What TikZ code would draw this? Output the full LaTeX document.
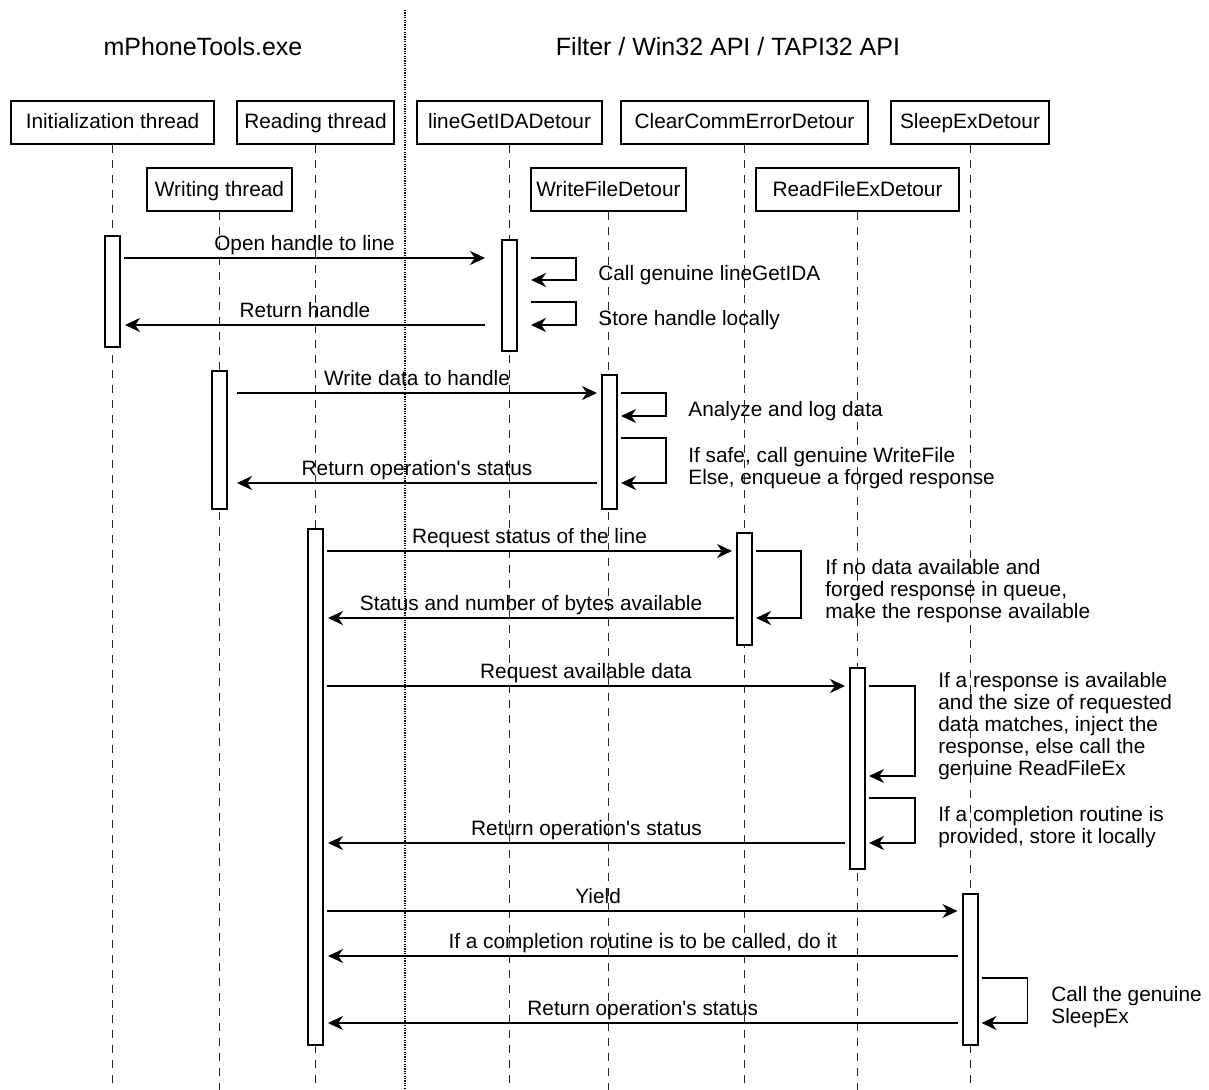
\documentclass[tikz,border=0pt]{standalone}
\usepackage{fontspec}
\setmainfont{Liberation Sans}[Ligatures=TeXOff]
\usetikzlibrary{arrows.meta}

\begin{document}
\begin{tikzpicture}[x=0.5pt, y=-0.5pt, font=\fontsize{10.4}{11}\selectfont, line join=miter,
		>={Stealth[length=7.5pt,width=7pt,inset=2.4pt]},
		obj/.style={draw, line width=1pt, minimum height=21.5pt, inner sep=1pt, text height=7.5pt, text depth=1pt},
		act/.style={draw, line width=1pt, fill=white, minimum width=7.5pt, inner sep=0pt},
		life/.style={black!85, line width=0.5pt, dash pattern=on 4pt off 3.5pt},
		msg/.style={->, line width=0.9pt},
		lbl/.style={above, inner sep=1pt, text height=7.5pt, text depth=2.2pt},
		note/.style={anchor=west, align=left, inner sep=0pt},
		title/.style={font=\fontsize{12.5}{14}\selectfont}
		]
		\useasboundingbox (0,0) rectangle (1209,1090);
		\node[title] (app) at (203,47) {mPhoneTools.exe};
		\node[title] (api) at (728,47) {Filter / Win32 API / TAPI32 API};
		\draw[line width=0.8pt, dash pattern=on 0.6pt off 0.6pt] (405,10) -- (405,1090);
		% objects
		\node[obj, minimum width=101.5pt] (init) at (112.5,122.5) {Initialization thread};
		\node[obj, minimum width=78.5pt] (read) at (315.5,122.5) {Reading thread};
		\node[obj, minimum width=92.5pt] (ida) at (509.5,122.5) {lineGetIDADetour};
		\node[obj, minimum width=123.5pt] (cc) at (744.5,122.5) {ClearCommErrorDetour};
		\node[obj, minimum width=79pt] (sleep) at (970,122.5) {SleepExDetour};
		\node[obj, minimum width=72.5pt] (writ) at (219.5,190) {Writing thread};
		\node[obj, minimum width=77.5pt] (wf) at (608.5,190) {WriteFileDetour};
		\node[obj, minimum width=101.5pt] (rf) at (857.5,190) {ReadFileExDetour};
		\foreach \o in {init,read,ida,cc,sleep,writ,wf,rf}
			\draw[life] (\o.south) -- (\o.south |- 0,1090);
		% activations
		\node[act, minimum height=55.5pt] (initact) at (init |- 0,291.5) {};
		\node[act, minimum height=55.5pt] (idaact) at (ida |- 0,295.5) {};
		\node[act, minimum height=69pt] (writact) at (writ |- 0,440) {};
		\node[act, minimum height=67pt] (wfact) at (609.5,442) {};
		\node[act, minimum height=258pt] (readact) at (read |- 0,786.5) {};
		\node[act, minimum height=56pt] (ccact) at (cc |- 0,589) {};
		\node[act, minimum height=100.5pt] (rfact) at (rf |- 0,768.5) {};
		\node[act, minimum height=75.5pt] (slact) at (sleep |- 0,969.5) {};
		% open the line
		\draw[msg] ([xshift=1.5pt]initact.east |- 0,258) -- node[lbl] (m1) {Open handle to line} ([xshift=-8pt]idaact.west |- 0,258);
		\draw[msg] ([xshift=6.5pt]idaact.east |- 0,258) -- ++(45,0) -- ++(0,22) -- ++(-45,0);
		\node[note] (n1) at (598,275) {Call genuine lineGetIDA};
		\draw[msg] ([xshift=6.5pt]idaact.east |- 0,302) -- ++(45,0) -- ++(0,23) -- ++(-45,0);
		\node[note] (n2) at (598,320) {Store handle locally};
		\draw[msg] ([xshift=-8pt]idaact.west |- 0,325) -- node[lbl] (m2) {Return handle} ([xshift=2pt]initact.east |- 0,325);
		% writing
		\draw[msg] ([xshift=4.5pt]writact.east |- 0,393) -- node[lbl] (m3) {Write data to handle} ([xshift=-2pt]wfact.west |- 0,393);
		\draw[msg] ([xshift=1.5pt]wfact.east |- 0,393) -- ++(45,0) -- ++(0,23) -- ++(-45,0);
		\node[note] (n3) at (688,411) {Analyze and log data};
		\draw[msg] ([xshift=1.5pt]wfact.east |- 0,438) -- ++(45,0) -- ++(0,45) -- ++(-45,0);
		\node[note] (n4) at (688,468) {If safe, call genuine WriteFile\\Else, enqueue a forged response};
		\draw[msg] ([xshift=-2pt]wfact.west |- 0,483) -- node[lbl] (m4) {Return operation's status} ([xshift=4.5pt]writact.east |- 0,483);
		% reading
		\draw[msg] ([xshift=1.5pt]readact.east |- 0,551) -- node[lbl] (m5) {Request status of the line} ([xshift=-2pt]ccact.west |- 0,551);
		\draw[msg] ([xshift=1.5pt]ccact.east |- 0,551) -- ++(45,0) -- ++(0,67) -- ++(-45,0);
		\node[note] (n5) at (825,591) {If no data available and\\forged response in queue,\\make the response available};
		\draw[msg] ([xshift=-1pt]ccact.west |- 0,618) -- node[lbl] (m6) {Status and number of bytes available} ([xshift=2pt]readact.east |- 0,618);
		\draw[msg] ([xshift=1.5pt]readact.east |- 0,686) -- node[lbl] (m7) {Request available data} ([xshift=-2pt]rfact.west |- 0,686);
		\draw[msg] ([xshift=1.5pt]rfact.east |- 0,686) -- ++(46,0) -- ++(0,90) -- ++(-46,0);
		\node[note] (n6) at (938,726) {If a response is available\\and the size of requested\\data matches, inject the\\response, else call the\\genuine ReadFileEx};
		\draw[msg] ([xshift=1.5pt]rfact.east |- 0,798) -- ++(46,0) -- ++(0,45) -- ++(-46,0);
		\node[note] (n7) at (938,827) {If a completion routine is\\provided, store it locally};
		\draw[msg] ([xshift=-2pt]rfact.west |- 0,843) -- node[lbl] (m8) {Return operation's status} ([xshift=2pt]readact.east |- 0,843);
		% yield
		\draw[msg] ([xshift=1.5pt]readact.east |- 0,911) -- node[lbl, pos=0.43] (m9) {Yield} ([xshift=-2pt]slact.west |- 0,911);
		\draw[msg] ([xshift=-2pt]slact.west |- 0,956) -- node[lbl] (m10) {If a completion routine is to be called, do it} ([xshift=2pt]readact.east |- 0,956);
		\draw[msg] ([xshift=1.5pt]slact.east |- 0,978) -- ++(46,0) -- ++(0,45) -- ++(-46,0);
		\node[note] (n8) at (1051,1007) {Call the genuine\\SleepEx};
		\draw[msg] ([xshift=-2pt]slact.west |- 0,1023) -- node[lbl] (m11) {Return operation's status} ([xshift=2pt]readact.east |- 0,1023);
\end{tikzpicture}
\end{document}
